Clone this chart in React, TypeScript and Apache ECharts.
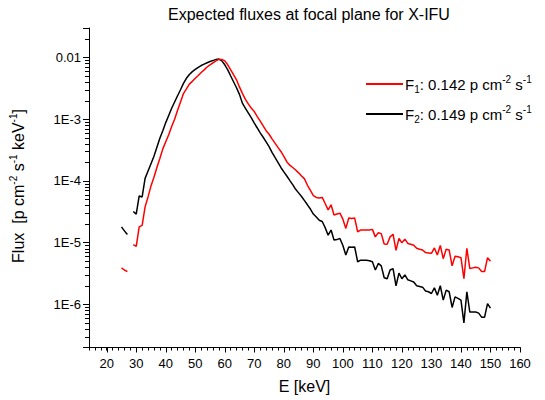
import React, { useEffect, useRef } from "react";
import * as echarts from "echarts";

const FONT = "'Liberation Sans', Arial, sans-serif";

const TITLE = "Expected fluxes at focal plane for X-IFU";
const X_NAME = "E [keV]";
const Y_NAME = "Flux  [p cm{sup|-2} s{sup|-1} keV{sup|-1}]";
const LEGEND_NAMES = ["F1", "F2"];
const LEGEND_TEXTS = [
  "F{sub|1}: 0.142 p cm{sup|-2} s{sup|-1}",
  "F{sub|2}: 0.149 p cm{sup|-2} s{sup|-1}",
];

const energy: number[] = [
  25, 26, 27, 28, 29, 30, 31, 32, 33, 34,
  35, 36, 37, 38, 39, 40, 41, 42, 43, 44,
  45, 46, 47, 48, 49, 50, 51, 52, 53, 54,
  55, 56, 57, 58, 59, 60, 61, 62, 63, 64,
  65, 66, 67, 68, 69, 70, 71, 72, 73, 74,
  75, 76, 77, 78, 79, 80, 81, 82, 83, 84,
  85, 86, 87, 88, 89, 90, 91, 92, 93, 94,
  95, 96, 97, 98, 99, 100, 101, 102, 103, 104,
  105, 106, 107, 108, 109, 110, 111, 112, 113, 114,
  115, 116, 117, 118, 119, 120, 121, 122, 123, 124,
  125, 126, 127, 128, 129, 130, 131, 132, 133, 134,
  135, 136, 137, 138, 139, 140, 141, 142, 143, 144,
  145, 146, 147, 148, 149, 150,
];

const fluxF1: (number | null)[] = [
  3.9e-6, 3.6e-6, 3.4e-6, null, 9.3e-6, 8.7e-6, 1.8e-5, 1.9e-5, 3.8e-5, 5.5e-5,
  8.3e-5, 1.15e-4, 1.65e-4, 2.3e-4, 3.3e-4, 4.3e-4, 5.6e-4, 7.6e-4, 1.0e-3, 1.4e-3,
  1.9e-3, 2.6e-3, 3.1e-3, 3.7e-3, 4.1e-3, 4.6e-3, 5.1e-3, 5.7e-3, 6.3e-3, 7.0e-3,
  7.6e-3, 8.2e-3, 8.8e-3, 9.3e-3, 9.3e-3, 8.8e-3, 7.6e-3, 6.3e-3, 5.2e-3, 4.3e-3,
  3.3e-3, 2.6e-3, 2.1e-3, 1.75e-3, 1.5e-3, 1.33e-3, 1.1e-3, 9.3e-4, 7.8e-4, 6.5e-4,
  5.7e-4, 4.8e-4, 4.1e-4, 3.5e-4, 3.0e-4, 2.5e-4, 2.05e-4, 1.8e-4, 1.65e-4, 1.5e-4,
  1.35e-4, 1.2e-4, 1.08e-4, 8.5e-5, 7.0e-5, 5.8e-5, 5.4e-5, 5.3e-5, 5.4e-5, 4.3e-5,
  3.4e-5, 4.1e-5, 2.8e-5, 2.9e-5, 3.0e-5, 2.4e-5, 1.7e-5, 2.5e-5, 2.45e-5, 2.5e-5,
  1.5e-5, 1.6e-5, 1.6e-5, 1.6e-5, 1.6e-5, 1.64e-5, 1.24e-5, 1.45e-5, 1.4e-5, 9.5e-6,
  9.4e-6, 1.24e-5, 1.37e-5, 7.5e-6, 1.17e-5, 9.9e-6, 1.14e-5, 9.7e-6, 9.4e-6, 9.1e-6,
  8.1e-6, 7.8e-6, 7.6e-6, 6.9e-6, 6.8e-6, 6.7e-6, 8.2e-6, 6.3e-6, 9.0e-6, 5.5e-6,
  7.8e-6, 7.6e-6, 4.2e-6, 6.0e-6, 5.9e-6, 5.7e-6, 2.6e-6, 8.1e-6, 3.8e-6, 3.9e-6,
  4.0e-6, 3.9e-6, 3.4e-6, 3.4e-6, 5.7e-6, 5.0e-6,
];

const fluxF2: (number | null)[] = [
  1.8e-5, 1.55e-5, 1.35e-5, null, 3.2e-5, 2.9e-5, 5.7e-5, 5.5e-5, 1.1e-4, 1.45e-4,
  1.9e-4, 2.5e-4, 3.5e-4, 4.9e-4, 6.5e-4, 8.8e-4, 1.15e-3, 1.5e-3, 1.9e-3, 2.4e-3,
  3.0e-3, 3.8e-3, 4.6e-3, 5.3e-3, 5.9e-3, 6.4e-3, 6.9e-3, 7.4e-3, 7.8e-3, 8.2e-3,
  8.6e-3, 8.9e-3, 9.3e-3, 9.4e-3, 8.8e-3, 7.6e-3, 6.3e-3, 5.0e-3, 4.0e-3, 3.2e-3,
  2.5e-3, 1.8e-3, 1.5e-3, 1.25e-3, 1.05e-3, 8.6e-4, 7.2e-4, 6.0e-4, 5.1e-4, 4.3e-4,
  3.6e-4, 2.9e-4, 2.4e-4, 2.0e-4, 1.65e-4, 1.4e-4, 1.2e-4, 1.02e-4, 8.7e-5, 7.3e-5,
  6.4e-5, 5.6e-5, 4.8e-5, 4.1e-5, 3.5e-5, 2.9e-5, 2.6e-5, 2.3e-5, 2.2e-5, 1.75e-5,
  1.32e-5, 1.6e-5, 1.1e-5, 1.12e-5, 1.17e-5, 9.0e-6, 6.3e-6, 8.5e-6, 8.4e-6, 8.5e-6,
  4.9e-6, 5.2e-6, 5.2e-6, 5.2e-6, 5.1e-6, 4.9e-6, 3.6e-6, 4.6e-6, 4.2e-6, 2.7e-6,
  2.6e-6, 3.6e-6, 3.8e-6, 2.0e-6, 3.2e-6, 2.6e-6, 3.0e-6, 2.5e-6, 2.4e-6, 2.3e-6,
  2.0e-6, 1.95e-6, 1.9e-6, 1.65e-6, 1.6e-6, 1.5e-6, 1.85e-6, 1.4e-6, 2.0e-6, 1.17e-6,
  1.7e-6, 1.6e-6, 8.9e-7, 1.32e-6, 1.25e-6, 1.17e-6, 5.0e-7, 1.6e-6, 7.5e-7, 7.5e-7,
  7.5e-7, 7.2e-7, 6.2e-7, 6.2e-7, 1.03e-6, 8.7e-7,
];

const X_MIN = 14;
const X_MAX = 160;
const Y_MIN = 2e-7;
const Y_MAX = 0.03;

// tick positions
const X_MAJOR_TICKS: number[] = [20, 30, 40, 50, 60, 70, 80, 90, 100, 110, 120, 130, 140, 150, 160];
const MINOR_MULTIPLIERS: number[] = [2, 3, 4, 5, 6, 7, 8, 9];
const MINOR_DECADES: number[] = [1e-7, 1e-6, 1e-5, 1e-4, 1e-3, 1e-2];

function yLabel(v: number): string {
  const l = Math.log10(v);
  const e = Math.round(l);
  if (Math.abs(l - e) > 1e-6) return "";
  if (e === -2) return "0.01";
  return "1E" + e;
}

export default function App() {
  const ref = useRef<HTMLDivElement>(null);
  useEffect(() => {
    if (!ref.current) return;
    const chart = echarts.init(ref.current, null, { renderer: "svg" });
    const supRich = {
      sup: { fontSize: 10, lineHeight: 10, verticalAlign: "top", fontFamily: FONT, color: "#000" },
      sub: { fontSize: 10, lineHeight: 10, verticalAlign: "bottom", fontFamily: FONT, color: "#000" },
    };

    chart.setOption({
      animation: false,
      textStyle: { fontFamily: FONT },
      title: {
        text: TITLE,
        left: 163,
        top: 1,
        textStyle: { fontSize: 16, fontWeight: "normal", color: "#000", fontFamily: FONT },
      },
      grid: { left: 89, top: 28, right: 25, bottom: 52.5 },
      legend: {
        orient: "vertical",
        left: 366,
        top: 74,
        padding: 0,
        itemWidth: 37,
        itemHeight: 2,
        itemGap: 10,
        icon: "rect",
        data: LEGEND_NAMES,
        formatter: (name: string) => LEGEND_TEXTS[LEGEND_NAMES.indexOf(name)],
        textStyle: {
          fontSize: 15,
          lineHeight: 20,
          color: "#000",
          fontFamily: FONT,
          padding: [0, 0, 0, -3],
          rich: supRich,
        },
      },
      xAxis: {
        type: "value",
        min: X_MIN,
        max: X_MAX,
        interval: 2,
        axisLine: { show: true, lineStyle: { color: "#000", width: 1 } },
        axisTick: { show: true, length: 3, lineStyle: { color: "#000", width: 1 } },
        splitLine: { show: false },
        axisLabel: {
          formatter: (v: number) => (Math.round(v) % 10 === 0 ? String(Math.round(v)) : ""),
          fontSize: 13,
          color: "#000",
          margin: 9,
          fontFamily: FONT,
        },
        name: X_NAME,
        nameLocation: "middle",
        nameGap: 31,
        nameTextStyle: { fontSize: 16, color: "#000", fontFamily: FONT },
      },
      yAxis: {
        type: "log",
        min: Y_MIN,
        max: Y_MAX,
        axisLine: { show: true, lineStyle: { color: "#000", width: 1 } },
        axisTick: { show: true, length: 6, lineStyle: { color: "#000", width: 1 } },
        splitLine: { show: false },
        axisLabel: { formatter: yLabel, fontSize: 13, color: "#000", margin: 8, fontFamily: FONT },
      },
      series: [
        {
          name: "F2",
          type: "line",
          showSymbol: false,
          symbol: "none",
          connectNulls: false,
          lineStyle: { color: "#000000", width: 1.5 },
          itemStyle: { color: "#000000" },
          data: energy.map((e, i) => [e, fluxF2[i]]),
        },
        {
          name: "F1",
          type: "line",
          showSymbol: false,
          symbol: "none",
          connectNulls: false,
          lineStyle: { color: "#ff0000", width: 1.5 },
          itemStyle: { color: "#ff0000" },
          data: energy.map((e, i) => [e, fluxF1[i]]),
        },
      ],
    });

    const tickEls: any[] = [];
    const toPx = (x: number, y: number): number[] | null => {
      try {
        const p = chart.convertToPixel({ gridIndex: 0 }, [x, y]) as number[];
        if (p && isFinite(p[0]) && isFinite(p[1])) return p;
      } catch (e) {
        /* ignore */
      }
      return null;
    };
    MINOR_DECADES.forEach((d) =>
      MINOR_MULTIPLIERS.forEach((k) => {
        const v = k * d;
        if (!(v > Y_MIN * 1.001 && v < Y_MAX * 0.999)) return;
        const p = toPx(X_MIN, v);
        if (!p) return;
        const y = Math.round(p[1]) + 0.5;
        tickEls.push({
          type: "line",
          z: 100,
          shape: { x1: p[0] - 4, y1: y, x2: p[0], y2: y },
          style: { stroke: "#000", lineWidth: 1 },
        });
      })
    );
    X_MAJOR_TICKS.forEach((xv) => {
      const p = toPx(xv, Y_MIN);
      if (!p) return;
      const x = Math.round(p[0]) + 0.5;
      tickEls.push({
        type: "line",
        z: 100,
        shape: { x1: x, y1: p[1], x2: x, y2: p[1] + 5 },
        style: { stroke: "#000", lineWidth: 1 },
      });
    });

    chart.setOption({
      graphic: [
        {
          type: "text",
          x: 18,
          y: 186,
          rotation: Math.PI / 2,
          style: {
            text: Y_NAME,
            fontSize: 16,
            lineHeight: 20,
            fontFamily: FONT,
            fill: "#000",
            align: "center",
            verticalAlign: "middle",
            rich: supRich,
          },
        },
        ...tickEls,
      ],
    });
    return () => chart.dispose();
  }, []);
  return (
    <div
      ref={ref}
      style={{ position: "absolute", left: 0, top: 0, width: 545, height: 400 }}
    />
  );
}
